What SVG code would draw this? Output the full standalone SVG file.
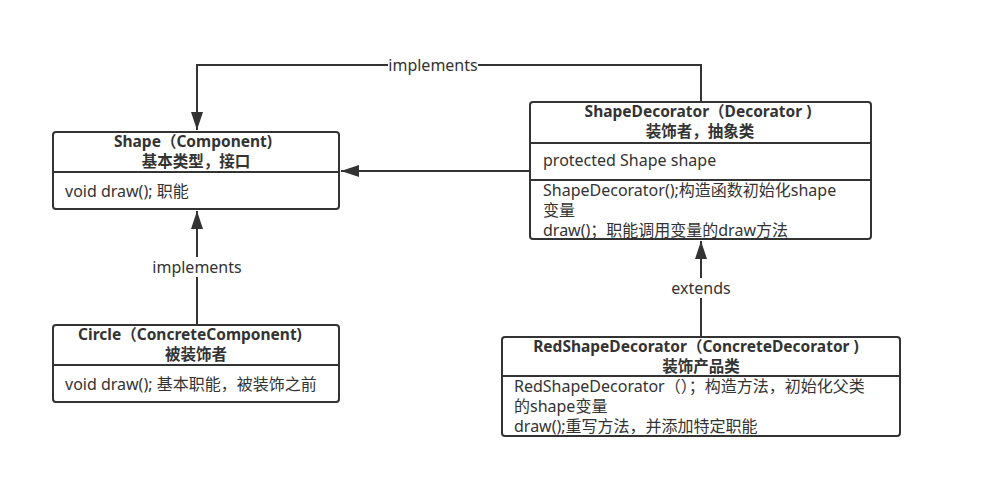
<svg xmlns="http://www.w3.org/2000/svg" width="996" height="487" viewBox="0 0 996 487">
<style>
.box{fill:#fff;stroke:#333;stroke-width:2}
.div{stroke:#333;stroke-width:2}
.t{font-family:"Noto Sans","Noto Sans CJK SC",sans-serif;font-size:16px;fill:#333}
.b{font-weight:bold;text-anchor:middle;font-size:15.5px}
.c{stroke:#333;stroke-width:2;fill:none}
.lbl{font-family:"Noto Sans","Noto Sans CJK SC",sans-serif;font-size:16px;fill:#333;text-anchor:middle}
</style>
<defs>
<marker id="arr" markerWidth="20" markerHeight="12" refX="18" refY="6" orient="auto" markerUnits="userSpaceOnUse">
<path d="M0,0 L18,6 L0,12 Z" fill="#333"/>
</marker>
</defs>
<rect width="996" height="487" fill="#fff"/>
<g id="connectors">
<path class="c" d="M701,102 V65 H197 V130" marker-end="url(#arr)"/>
<rect x="388" y="55" width="90" height="20" fill="#fff"/>
<text class="lbl" x="433" y="71">implements</text>
<path class="c" d="M530,171 H341" marker-end="url(#arr)"/>
<path class="c" d="M197,325 V211" marker-end="url(#arr)"/>
<rect x="147" y="257" width="100" height="20" fill="#fff"/>
<text class="lbl" x="197" y="273">implements</text>
<path class="c" d="M701,337 V241" marker-end="url(#arr)"/>
<rect x="666" y="278" width="70" height="20" fill="#fff"/>
<text class="lbl" x="701" y="294">extends</text>
</g>
<g id="shape">
<rect class="box" x="53" y="132" width="286" height="77" rx="3"/>
<line class="div" x1="53" y1="172" x2="339" y2="172"/>
<text class="t b" x="193" y="147">Shape（Component)</text>
<text class="t b" x="196" y="167">基本类型，接口</text>
<text class="t" x="65" y="197">void draw(); 职能</text>
</g>
<g id="shapeDecorator">
<rect class="box" x="530" y="102" width="341" height="137" rx="3"/>
<line class="div" x1="530" y1="143" x2="871" y2="143"/>
<line class="div" x1="530" y1="180" x2="871" y2="180"/>
<text class="t b" x="698" y="117">ShapeDecorator（Decorator )</text>
<text class="t b" x="700" y="137">装饰者，抽象类</text>
<text class="t" x="543" y="166">protected Shape shape</text>
<text class="t" x="543" y="196">ShapeDecorator();构造函数初始化shape</text>
<text class="t" x="543" y="216">变量</text>
<text class="t" x="543" y="236">draw()；职能调用变量的draw方法</text>
</g>
<g id="circle">
<rect class="box" x="53" y="325" width="286" height="77" rx="3"/>
<line class="div" x1="53" y1="365" x2="339" y2="365"/>
<text class="t b" x="190" y="340">Circle（ConcreteComponent)</text>
<text class="t b" x="196" y="360">被装饰者</text>
<text class="t" x="65" y="390">void draw(); 基本职能，被装饰之前</text>
</g>
<g id="redShapeDecorator">
<rect class="box" x="502" y="337" width="398" height="99" rx="3"/>
<line class="div" x1="502" y1="376" x2="900" y2="376"/>
<text class="t b" x="696" y="352">RedShapeDecorator（ConcreteDecorator )</text>
<text class="t b" x="701" y="372">装饰产品类</text>
<text class="t" x="514" y="392">RedShapeDecorator（）；构造方法，初始化父类</text>
<text class="t" x="514" y="412">的shape变量</text>
<text class="t" x="514" y="432">draw();重写方法，并添加特定职能</text>
</g>
</svg>
